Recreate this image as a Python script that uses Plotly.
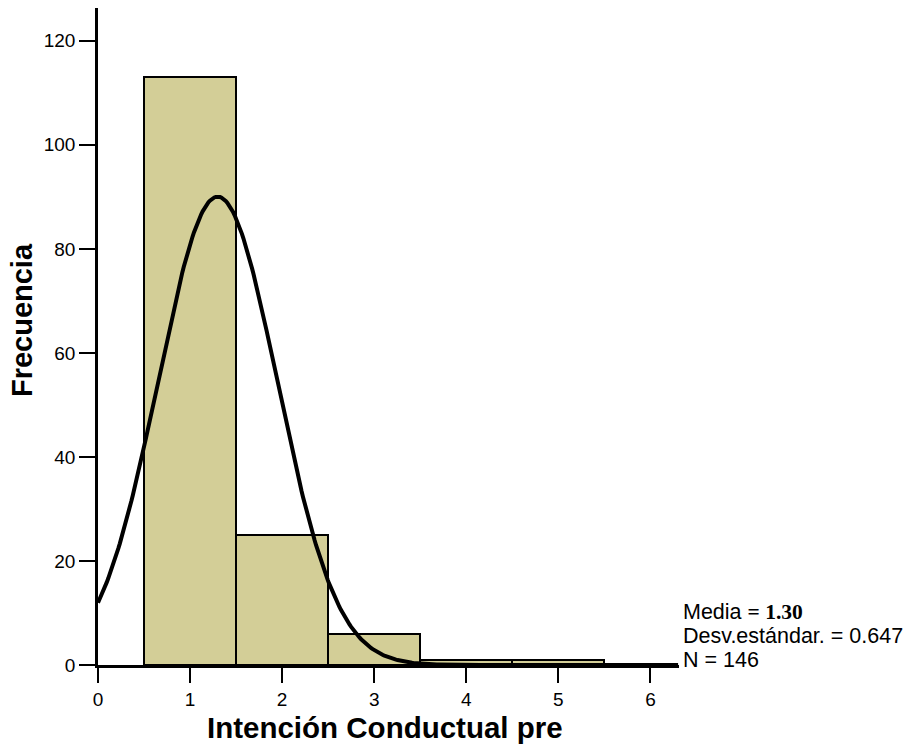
import numpy as np
import plotly.graph_objects as go

# Data
bin_centers = [1, 2, 3, 4, 5]
frequencies = [113, 25, 6, 1, 1]
mean_val = 1.30
sd_val = 0.647
n_val = 146
bin_width = 1.0

x_ticks = [0, 1, 2, 3, 4, 5, 6]
y_ticks = [0, 20, 40, 60, 80, 100, 120]

# Normal curve from the stated statistics
xc = np.linspace(0, 6.3, 400)
yc = n_val * bin_width / (sd_val * np.sqrt(2 * np.pi)) * np.exp(-((xc - mean_val) ** 2) / (2 * sd_val ** 2))

fig = go.Figure()
fig.add_trace(go.Bar(
    x=bin_centers, y=frequencies, width=bin_width,
    marker=dict(color="#D3CE97", line=dict(color="black", width=2)),
    showlegend=False, hoverinfo="x+y",
))
fig.add_trace(go.Scatter(
    x=xc, y=yc, mode="lines",
    line=dict(color="black", width=4),
    showlegend=False, cliponaxis=False,
))

font_main = "Liberation Sans, Arial, Helvetica, sans-serif"
serif = "Liberation Serif, Times New Roman, serif"

fig.update_layout(
    width=905, height=747,
    margin=dict(l=98, r=226, t=8, b=82),
    plot_bgcolor="white", paper_bgcolor="white",
    font=dict(family=font_main, color="black", size=19),
    bargap=0,
    xaxis=dict(
        range=[0, 6.31], tickvals=x_ticks, ticks="outside", ticklen=15, tickwidth=2,
        tickcolor="black", showline=True, linecolor="black", linewidth=2.5,
        showgrid=False, zeroline=False, tickfont=dict(size=19), automargin=False,
    ),
    yaxis=dict(
        range=[0, 126.3], tickvals=y_ticks, ticks="outside", ticklen=16, tickwidth=2,
        tickcolor="black", showline=True, linecolor="black", linewidth=2.5,
        showgrid=False, zeroline=False, tickfont=dict(size=19), automargin=False,
    ),
    annotations=[
        dict(x=0.494, y=-0.095, xref="paper", yref="paper", xanchor="center", yanchor="middle",
             showarrow=False, text="<b>Intención Conductual pre</b>", font=dict(size=29.5)),
        dict(x=-0.1308, y=0.525, xref="paper", yref="paper", xanchor="center", yanchor="middle",
             showarrow=False, textangle=-90, text="<b>Frecuencia</b>", font=dict(size=29)),
        dict(x=1.004, y=10.2, xref="paper", yref="y", xanchor="left", yanchor="middle",
             showarrow=False, font=dict(size=21.5),
             text=f"Media <span style='font-family:{serif}'><b>= 1.30</b></span>"),
        dict(x=1.004, y=5.6, xref="paper", yref="y", xanchor="left", yanchor="middle",
             showarrow=False, font=dict(size=21.5), text="Desv.estándar. = 0.647"),
        dict(x=1.004, y=0.96, xref="paper", yref="y", xanchor="left", yanchor="middle",
             showarrow=False, font=dict(size=21.5), text="N = 146"),
    ],
)

fig.write_html("out.html", config={"displayModeBar": False},
               post_script="document.body.style.margin='0';document.body.style.overflow='hidden';")
